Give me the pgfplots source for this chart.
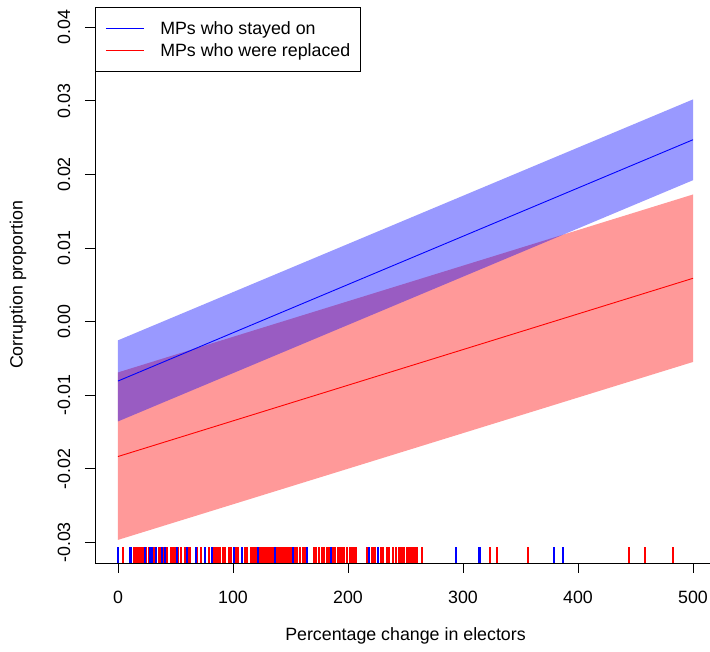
\documentclass[border=0pt]{standalone}
\usepackage{fontspec}
\setmainfont{Liberation Sans}
\usepackage{pgfplots}
\pgfplotsset{compat=1.18}
\definecolor{rblue}{RGB}{0,0,255}
\definecolor{rred}{RGB}{255,0,0}

\begin{document}
\fontsize{17.8}{21}\selectfont
\begin{tikzpicture}
\useasboundingbox (0,0) rectangle (710pt,652pt);
\begin{axis}[
    at={(95pt,89pt)}, anchor=south west,
    scale only axis, width=621pt, height=556.3pt,
    xmin=-20, xmax=520, ymin=-0.0328, ymax=0.0428,
    axis x line*=bottom, axis y line*=left,
    axis line style={-, line width=0.8pt},
    tick align=outside, major tick length=10pt,
    tick style={black, line width=0.8pt},
    xtick={0,100,200,300,400,500},
    ytick={-0.03,-0.02,-0.01,0,0.01,0.02,0.03,0.04},
    yticklabels={-0.03,-0.02,-0.01,0.00,0.01,0.02,0.03,0.04},
    scaled y ticks=false,
    /pgf/number format/assume math mode=true,
    xticklabel style={anchor=north, inner sep=0pt, yshift=-17.6pt},
    yticklabel style={xshift=-14.5pt, rotate=90, anchor=south, inner sep=0pt},
    every axis x label/.style={at={(axis description cs:0.5,-0.1312)}, anchor=center},
    every axis y label/.style={at={(axis description cs:-0.124,0.5)}, rotate=90, anchor=center},
    xlabel={Percentage change in electors},
    ylabel={Corruption proportion},
    legend style={at={(0,1)}, anchor=north west, draw=black, line width=0.8pt,
        inner xsep=10pt, inner ysep=11pt, row sep=2pt,
        nodes={inner sep=0pt, text height=16.7pt, text depth=3.3pt},
        /tikz/every odd column/.style={column sep=16pt}},
    legend cell align=left,
    legend image code/.code={\path (0pt,0pt) -- (5pt,0pt); \draw[#1, line width=0.9pt] (5pt,0pt) -- (38pt,0pt);},
]
% confidence bands
\addplot[draw=none, fill=rred, fill opacity=0.4, forget plot]
    coordinates {(0,-0.02966) (500,-0.00548) (500,0.01728) (0,-0.00690)} -- cycle;
\addplot[draw=none, fill=rblue, fill opacity=0.4, forget plot]
    coordinates {(0,-0.01356) (500,0.01922) (500,0.03020) (0,-0.00254)} -- cycle;
% fitted lines
\addplot[rblue, line width=0.9pt] coordinates {(0,-0.00807) (500,0.02472)};
\addlegendentry{MPs who stayed on}
\addplot[rred, line width=0.9pt] coordinates {(0,-0.01833) (500,0.00589)};
\addlegendentry{MPs who were replaced}
% rug
\addplot[rred, line width=2pt, -, quiver={u=0, v=0.00218}, forget plot]
    table[y expr=-0.0328] {
x
4.1
13.6
15.7
16.5
17
18
19
20.3
21
22
24.6
26.7
31.6
35.3
36.8
39.7
42.5
45.8
47.5
49.6
52.2
55
58
61.5
63
69
72
75.4
79.1
83.5
85
87
89
91.6
93
96.5
98
101.7
103.5
104.6
110.7
112
115.4
117
119
120.6
122.5
124.3
126
127.5
129.3
131
133.4
135
137.4
139
140
141
142
143
144.6
146
147.5
148.5
150
153
154.2
155.6
158
161.2
163
170
172.5
174.8
177
179
182
183.5
187
188.5
191
192.8
194
195.7
196.5
199
201.4
203.5
205.2
207
216.8
220.6
221.5
223.5
225.8
229
230.8
234.3
236
238.8
241.7
244
246
247.5
249
251
252
253.3
255
256
257
258.3
260
264
323.2
329.3
356.8
386.7
444.3
458
482.3
};
\addplot[rblue, line width=2pt, -, quiver={u=0, v=0.00218}, forget plot]
    table[y expr=-0.0328] {
x
0.3
10.7
11.7
23.8
27.8
29.5
33.3
38.3
41.2
51
60.3
67.5
75.4
82
100.9
107.5
121.8
136.5
152.5
164
185.5
218.5
226.4
293.6
314.2
315.2
379.1
386.7
};
\end{axis}
\end{tikzpicture}
\end{document}
